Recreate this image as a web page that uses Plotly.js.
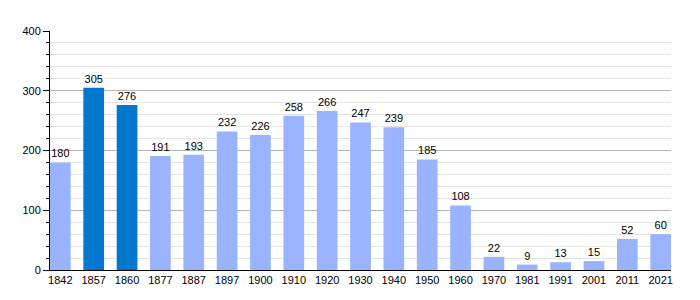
<!DOCTYPE html>
<html>
<head>
<meta charset="utf-8">
<script src="https://cdn.plot.ly/plotly-3.0.1.min.js"></script>
<style>html,body{margin:0;padding:0;background:#fff;}#chart{width:700px;height:300px;}</style>
</head>
<body>
<div id="chart"></div>
<script>
const years = ["1842","1857","1860","1877","1887","1897","1900","1910","1920","1930","1940","1950","1960","1970","1981","1991","2001","2011","2021"];
const population = [180,305,276,191,193,232,226,258,266,247,239,185,108,22,9,13,15,52,60];
const highlighted = ["1857","1860"];

const lightColor = "#99b3ff";
const darkColor = "#0077cc";
const colors = years.map(y => highlighted.includes(y) ? darkColor : lightColor);

const trace = {
  type: "bar",
  x: years,
  y: population,
  marker: {color: colors, line: {width: 0}},
  width: 0.62,
  text: population.map(String),
  textposition: "outside",
  textfont: {family: "Liberation Sans, Arial, sans-serif", size: 11, color: "#000"},
  cliponaxis: false,
  hoverinfo: "x+y"
};

const layout = {
  width: 700,
  height: 300,
  margin: {l: 50, r: 29, t: 31, b: 30},
  paper_bgcolor: "#fff",
  plot_bgcolor: "#fff",
  showlegend: false,
  font: {family: "Liberation Sans, Arial, sans-serif", size: 11, color: "#000"},
  xaxis: {
    type: "category",
    range: [-0.31, 18.31],
    showgrid: false,
    showline: true,
    linecolor: "#000",
    linewidth: 1,
    ticks: "",
    tickfont: {size: 11, color: "#000"},
    fixedrange: true
  },
  yaxis: {
    range: [0, 400],
    dtick: 100,
    showgrid: true,
    gridcolor: "#b4b4b4",
    gridwidth: 1,
    showline: true,
    linecolor: "#000",
    linewidth: 1,
    ticks: "outside",
    ticklen: 6,
    tickcolor: "#000",
    tickfont: {size: 11, color: "#000"},
    zeroline: false,
    minor: {dtick: 20, showgrid: true, gridcolor: "#e4e4e4", gridwidth: 1, ticks: "outside", ticklen: 3, tickcolor: "#000"},
    fixedrange: true
  },
  bargap: 0.38
};

Plotly.newPlot("chart", [trace], layout, {displayModeBar: false, staticPlot: true});
</script>
</body>
</html>
